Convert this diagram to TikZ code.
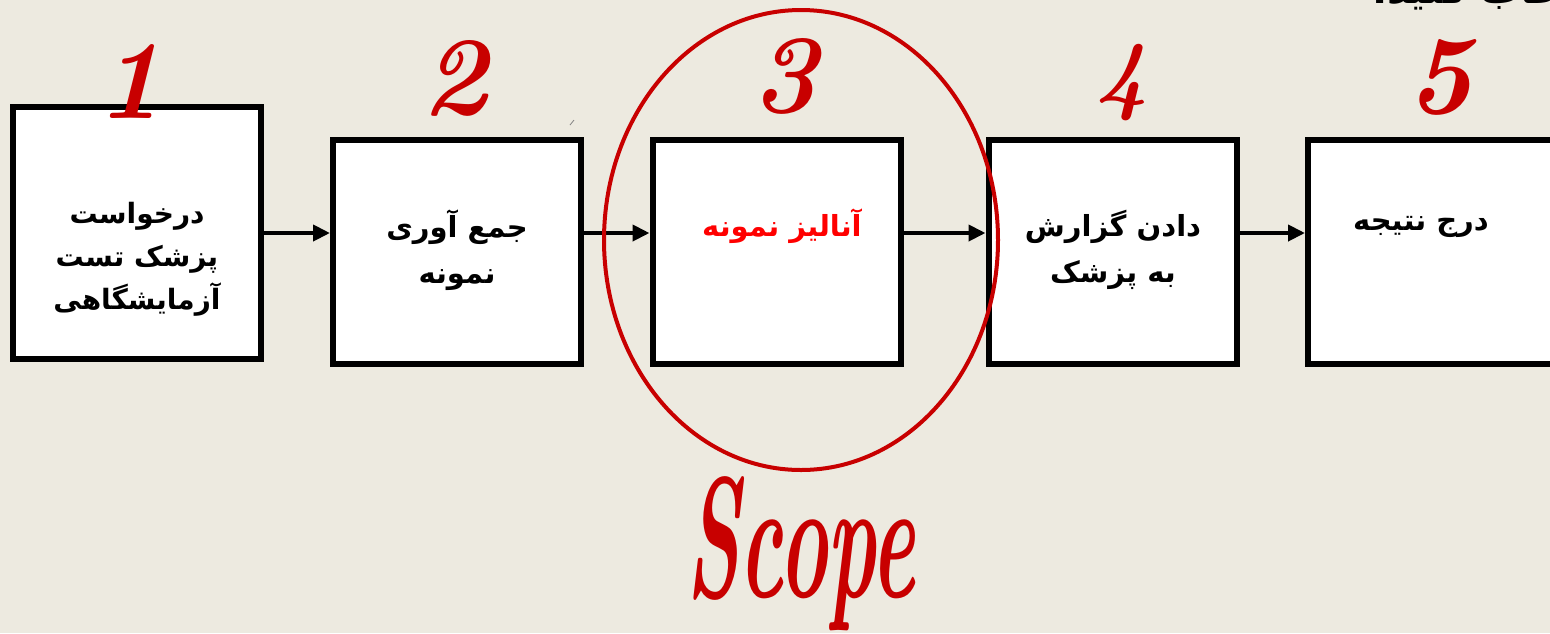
\documentclass[tikz,border=0pt]{standalone}
\usepackage{fontspec}
\TeXXeTstate=1
\newfontfamily\fa[Script=Arabic]{DejaVu Sans}
\usetikzlibrary{arrows.meta}
\definecolor{paper}{HTML}{EDEAE0}
\definecolor{scopered}{HTML}{C80000}
\definecolor{labelred}{HTML}{FF0000}
\begin{document}
\begin{tikzpicture}[x=1pt,y=-1pt,
  stepbox/.style={draw=black, line width=6pt, fill=white, inner sep=0pt,
    minimum width=248pt, minimum height=224pt},
  flow/.style={line width=4pt, -{Triangle[length=17pt,width=16pt]}},
  steplabel/.style={font=\fa\bfseries\fontsize{29}{46}\selectfont, align=center, inner sep=0pt},
  stepnum/.style={text=scopered, font=\fontsize{112}{112}\selectfont\bfseries\itshape, inner sep=0pt, anchor=base}]
  \useasboundingbox (0,0) rectangle (1550,633);
  \clip (0,0) rectangle (1550,633);
  \fill[paper] (0,0) rectangle (1550,633);

  % heading line running off the top edge
  \node[font=\fa\bfseries\fontsize{40}{40}\selectfont, anchor=base west, inner sep=0pt]
    (head) at (1372,3) {\beginR انتخاب کنید.\endR};

  % process steps
  \node[stepbox, minimum height=252pt] (b1) at (136.5,233) {};
  \node[stepbox] (b2) at (457,252) {};
  \node[stepbox] (b3) at (776.5,252) {};
  \node[stepbox] (b4) at (1112.5,252) {};
  \node[stepbox] (b5) at (1432,252) {};

  \node[steplabel, font=\fa\bfseries\fontsize{28}{43}\selectfont] (t1) at (137,259)
    {\beginR درخواست\endR\\\beginR پزشک تست\endR\\\beginR آزمایشگاهی\endR};
  \node[steplabel] (t2) at (457,250) {\beginR جمع آوری\endR\\\beginR نمونه\endR};
  \node[steplabel, text=labelred] (t3) at (782,226) {\beginR آنالیز  نمونه\endR};
  \node[steplabel] (t4) at (1113,250) {\beginR دادن گزارش\endR\\\beginR به پزشک\endR};
  \node[steplabel] (t5) at (1421,227) {\beginR درج نتیجه\endR};

  % connectors
  \draw[flow] (b1.east) -- (b1.east -| b2.west);
  \draw[flow] (b2.east |- b1.east) -- (b1.east -| b3.west);
  \draw[flow] (b3.east |- b1.east) -- (b1.east -| b4.west);
  \draw[flow] (b4.east |- b1.east) -- (b1.east -| b5.west);

  % small stray stroke
  \draw[gray, line width=0.8pt] (570,125) -- (574,120);

  % step numbers
  \node[stepnum] (n1) at (130,118) {1};
  \node[stepnum] (n2) at (455,114) {2};
  \node[stepnum] (n3) at (785,112) {3};
  \node[stepnum, scale=0.8] (n4) at (1122,103) {4};
  \node[stepnum] (n5) at (1440,113) {5};

  % scope marker
  \draw[scopered, line width=4pt] (801,240) ellipse [x radius=197, y radius=230];
  \node[text=scopered, font=\fontsize{172}{172}\selectfont\bfseries\itshape, inner sep=0pt,
    anchor=base, xscale=0.48] (scope) at (801,597) {Scope};
\end{tikzpicture}
\end{document}
